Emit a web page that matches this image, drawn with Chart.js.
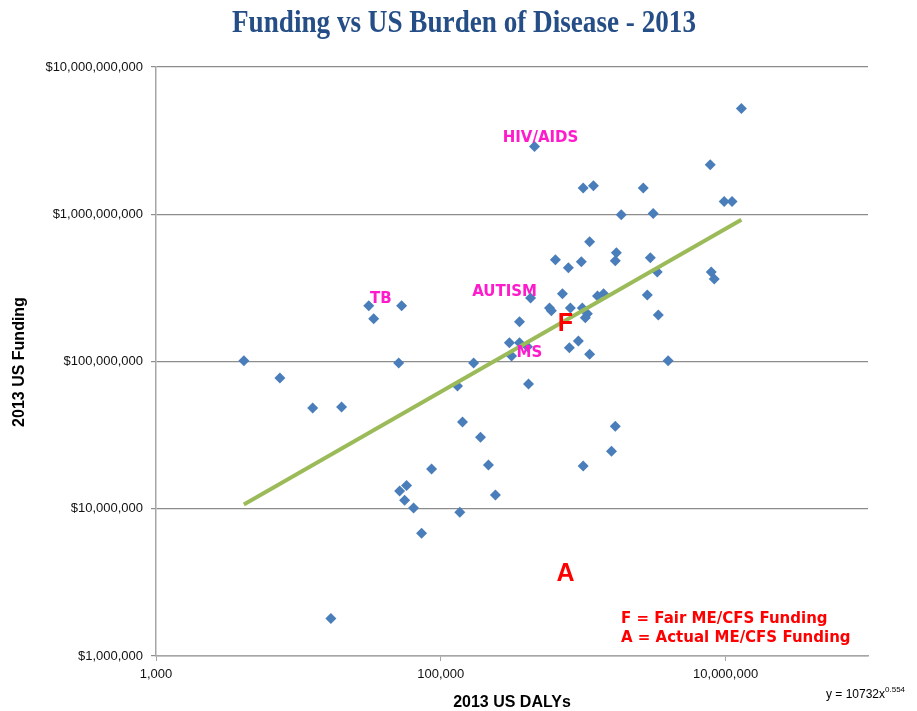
<!DOCTYPE html>
<html lang="en">
<head>
<meta charset="UTF-8">
<title>Funding vs US Burden of Disease - 2013</title>
<script src="https://cdn.jsdelivr.net/npm/chart.js"></script>
<style>
    body { margin: 0; background: #fff; }
    .chart-container { position: relative; width: 917px; height: 711px; }
</style>
</head>
<body>
<div class="chart-container"><canvas id="dalyChart"></canvas></div>
<script>
// 2013 US DALYs (x) and 2013 US funding in $ (y), one pair per disease
const dalys = [
    4140, 7410, 12600, 20100, 33800, 53100, 50600, 86100, 57500, 51400,
    55700, 64400, 73300, 16900, 131000, 142000, 190000, 216000, 242000, 136000,
    170000, 303000, 357000, 314000, 357000, 413000, 580000, 598000, 638000, 715000,
    787000, 813000, 800000, 925000, 970000, 986000, 1070000, 1035000, 1110000, 1000000,
    1180000, 1110000, 1260000, 1390000, 1710000, 1680000, 1850000, 1580000, 1680000, 1000000,
    2640000, 2960000, 3100000, 3310000, 2820000, 3370000, 3950000, 7800000, 7930000, 8320000,
    9770000, 11100000, 12900000
];
const funding = [
    101000000, 77200000, 48300000, 49000000, 195000000, 239000000, 97700000, 18600000, 14400000, 13200000,
    11400000, 10100000, 6810000, 1800000, 68100000, 38800000, 30600000, 19800000, 12400000, 9470000,
    97700000, 134000000, 134000000, 109000000, 186000000, 70300000, 231000000, 221000000, 490000000, 288000000,
    433000000, 231000000, 124000000, 138000000, 475000000, 231000000, 211000000, 198000000, 112000000, 1510000000,
    1560000000, 650000000, 279000000, 288000000, 547000000, 483000000, 993000000, 24600000, 36400000, 19500000,
    1510000000, 506000000, 1010000000, 406000000, 283000000, 207000000, 101000000, 2170000000, 406000000, 364000000,
    1220000000, 1220000000, 5220000000
];

// diseases named on the chart
const namedDiseases = ['HIV/AIDS', 'AUTISM', 'TB', 'MS'];
const namedDalys = [455000, 427000, 31200, 406000];
const namedFunding = [2880000000, 270000000, 239000000, 126000000];

// power trendline (y = 10732x^0.554), ends
const trendDalys = [4140, 12900000];
const trendFunding = [10700000, 919000000];

// ME/CFS: F = fair funding on the trendline, A = actual funding
const mecfsDalys = 750000;
const mecfsFair = 180000000;
const mecfsActual = 3600000;

const xTicks = [1e3, 1e5, 1e7];
const yTicks = [1e6, 1e7, 1e8, 1e9, 1e10];

const diseasePoints = dalys.map((x, i) => ({ x: x, y: funding[i] }))
    .concat(namedDalys.map((x, i) => ({ x: x, y: namedFunding[i] })));
const trendPoints = trendDalys.map((x, i) => ({ x: x, y: trendFunding[i] }));

// label offsets (px) for the named diseases
const nameOffsets = [[6, -8], [-26, -6], [12, -7], [2, 6]];

const textPlugin = {
    id: 'textPlugin',
    afterDatasetsDraw(chart) {
        const ctx = chart.ctx;
        const xs = chart.scales.x, ys = chart.scales.y;
        ctx.save();
        ctx.textBaseline = 'middle';
        ctx.textAlign = 'center';

        // disease names
        ctx.fillStyle = '#FF1ACC';
        ctx.font = 'bold 15px "DejaVu Sans"';
        namedDiseases.forEach((name, i) => {
            const px = xs.getPixelForValue(namedDalys[i]) + nameOffsets[i][0];
            const py = ys.getPixelForValue(namedFunding[i]) + nameOffsets[i][1];
            ctx.fillText(name, px, py);
        });

        // F and A markers
        ctx.fillStyle = '#FF0000';
        ctx.font = 'bold 25px "Liberation Sans"';
        const mx = xs.getPixelForValue(mecfsDalys);
        ctx.fillText('F', mx, ys.getPixelForValue(mecfsFair));
        ctx.fillText('A', mx, ys.getPixelForValue(mecfsActual));

        // key
        ctx.textAlign = 'left';
        ctx.font = 'bold 15px "DejaVu Sans"';
        ctx.fillText('F = Fair ME/CFS Funding', 621, 619);
        ctx.fillText('A = Actual ME/CFS Funding', 621, 638);
        ctx.restore();
    },
    afterDraw(chart) {
        const ctx = chart.ctx;
        const area = chart.chartArea;
        ctx.save();

        // title, condensed serif
        ctx.fillStyle = '#254E86';
        ctx.font = 'bold 32px "Liberation Serif"';
        ctx.textBaseline = 'alphabetic';
        ctx.textAlign = 'left';
        const title = 'Funding vs US Burden of Disease - 2013';
        const tw = ctx.measureText(title).width;
        ctx.save();
        ctx.translate(232, 32);
        ctx.scale(464 / tw, 1);
        ctx.fillText(title, 0, 0);
        ctx.restore();

        // axis titles
        ctx.fillStyle = '#000';
        ctx.font = 'bold 16px "Liberation Sans"';
        ctx.textAlign = 'center';
        ctx.textBaseline = 'middle';
        ctx.fillText('2013 US DALYs', (area.left + area.right) / 2, 703);
        ctx.save();
        ctx.translate(20, 362);
        ctx.rotate(-Math.PI / 2);
        ctx.fillText('2013 US Funding', 0, 0);
        ctx.restore();

        // trendline equation
        ctx.textAlign = 'left';
        ctx.textBaseline = 'alphabetic';
        ctx.font = '12px "Liberation Sans"';
        const eq = 'y = 10732x';
        ctx.fillText(eq, 826, 698);
        const ew = ctx.measureText(eq).width;
        ctx.font = '8px "Liberation Sans"';
        ctx.fillText('0.554', 826 + ew, 692);
        ctx.restore();
    }
};

const ctx = document.getElementById('dalyChart').getContext('2d');
const chart = new Chart(ctx, {
    type: 'scatter',
    data: {
        datasets: [
            {
                label: 'Power trendline',
                data: trendPoints,
                showLine: true,
                borderColor: '#9BBB59',
                borderWidth: 4,
                pointRadius: 0,
                order: 0
            },
            {
                label: 'Diseases',
                data: diseasePoints,
                pointStyle: 'rectRot',
                pointRadius: 5.5,
                backgroundColor: '#4A7EBB',
                borderColor: '#4A7EBB',
                borderWidth: 0,
                order: 1
            }
        ]
    },
    options: {
        responsive: true,
        maintainAspectRatio: false,
        animation: false,
        layout: { padding: { top: 67, right: 49, left: 0, bottom: 0 } },
        plugins: {
            legend: { display: false },
            tooltip: { enabled: false }
        },
        scales: {
            x: {
                type: 'logarithmic',
                min: 1000,
                max: 100000000,
                afterBuildTicks: (axis) => { axis.ticks = xTicks.map(v => ({ value: v })); },
                afterFit: (axis) => { axis.height = 55; },
                grid: { drawOnChartArea: false, tickLength: 5, color: '#A6A6A6' },
                border: { color: '#A6A6A6', width: 1.5 },
                ticks: {
                    color: '#111',
                    padding: 6,
                    maxRotation: 0,
                    font: { family: 'Liberation Sans', size: 13 },
                    callback: (value) => value.toLocaleString('en-US')
                }
            },
            y: {
                type: 'logarithmic',
                min: 1000000,
                max: 10000000000,
                afterBuildTicks: (axis) => { axis.ticks = yTicks.map(v => ({ value: v })); },
                afterFit: (axis) => { axis.width = 156; },
                grid: { color: '#8C8C8C', lineWidth: 1.2, tickLength: 5 },
                border: { color: '#A6A6A6', width: 1.5 },
                ticks: {
                    color: '#111',
                    padding: 8,
                    font: { family: 'Liberation Sans', size: 13 },
                    callback: (value) => '$' + value.toLocaleString('en-US')
                }
            }
        }
    },
    plugins: [textPlugin]
});
</script>
</body>
</html>
